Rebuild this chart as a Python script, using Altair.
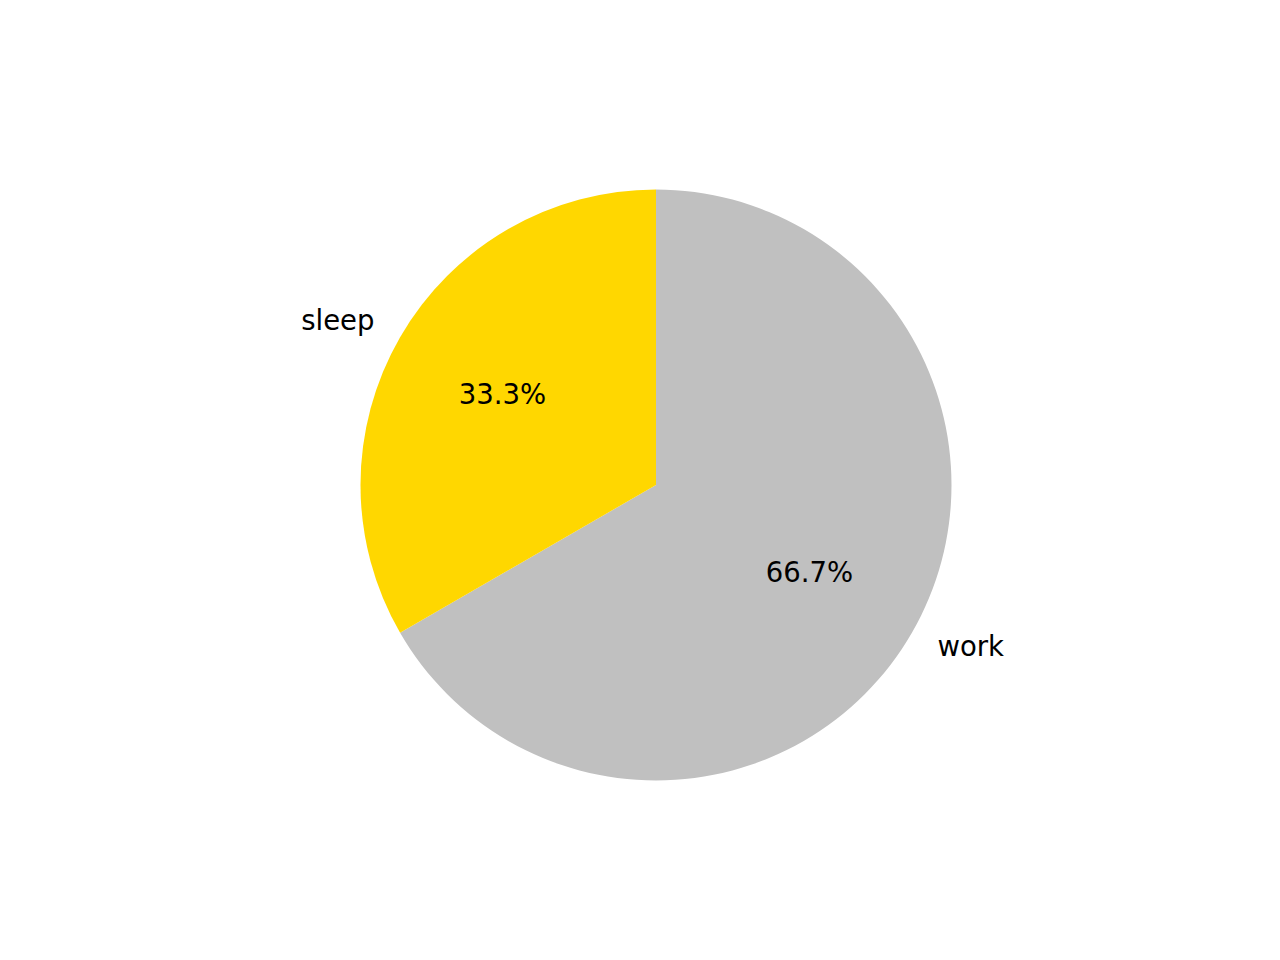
import altair as alt
import pandas as pd

categories = ["work", "sleep"]
hours = [16, 8]
colors = ["#C0C0C0", "#FFD700"]
order = [0, 1]

df = pd.DataFrame({"category": categories, "hours": hours, "ord": order})

R = 295.5
cx, cy = 648, 477

base = alt.Chart(df).transform_joinaggregate(
    total="sum(hours)"
).transform_calculate(
    pct="format(datum.hours / datum.total * 100, '.1f') + '%'",
    sleep_lbl="datum.category == 'sleep' ? datum.category : ''",
    work_lbl="datum.category == 'work' ? datum.category : ''",
).encode(
    theta=alt.Theta("hours:Q", stack=True),
    order=alt.Order("ord:Q"),
    x=alt.value(cx),
    y=alt.value(cy),
)

arcs = base.mark_arc(radius=R, stroke=None).encode(
    color=alt.Color("category:N",
                    scale=alt.Scale(domain=categories, range=colors),
                    legend=None)
)

font = "DejaVu Sans"
fs = 27.5

pct = base.mark_text(radius=0.6 * R, font=font, fontSize=fs, color="black",
                     align="center", baseline="middle").encode(text="pct:N")
lbl_sleep = base.mark_text(radius=1.1 * R, font=font, fontSize=fs, color="black",
                           align="right", baseline="middle").encode(text="sleep_lbl:N")
lbl_work = base.mark_text(radius=1.1 * R, font=font, fontSize=fs, color="black",
                          align="left", baseline="middle").encode(text="work_lbl:N")

chart = alt.layer(arcs, pct, lbl_sleep, lbl_work).properties(
    width=1264, height=944,
    autosize=alt.AutoSizeParams(type="none"),
    padding=0,
).configure_view(stroke=None)

chart.save("out.html", embed_options={"renderer": "svg", "actions": False})
